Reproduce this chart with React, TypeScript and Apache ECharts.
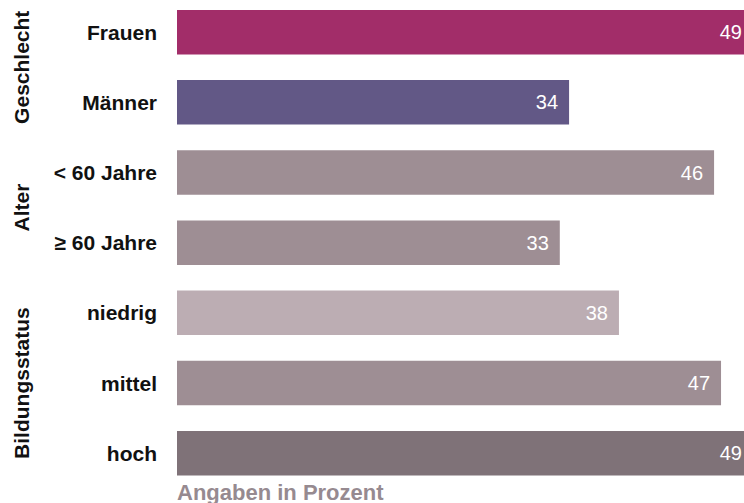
import React, { useEffect, useRef } from "react";
import * as echarts from "echarts";

const categories = ["Frauen", "Männer", "< 60 Jahre", "≥ 60 Jahre", "niedrig", "mittel", "hoch"];
const values = [49, 33.8, 46.3, 33.0, 38.1, 46.9, 49];
const barColors = ["#A22D69", "#625886", "#9E8E94", "#9E8E94", "#BCADB3", "#9E8E94", "#7F7278"];
const groups = [
  { label: "Geschlecht", first: 0, last: 1 },
  { label: "Alter", first: 2, last: 3 },
  { label: "Bildungsstatus", first: 4, last: 6 },
];
const axisNote = "Angaben in Prozent";

const FONT = "Liberation Sans, Arial, sans-serif";
const SHIFT = 3; // chart canvas starts 3px above the page top

export default function App() {
  const ref = useRef<HTMLDivElement>(null);
  useEffect(() => {
    if (!ref.current) return;
    const chart = echarts.init(ref.current, null, { renderer: "svg" });
    const band = 70.17;
    const axisMax = 48.88;
    const maxVal = Math.max(...values);
    chart.setOption({
      animation: false,
      grid: { left: 177, right: 0, top: 0.1, height: band * categories.length, containLabel: false },
      xAxis: {
        type: "value",
        min: 0,
        max: axisMax,
        show: false,
      },
      yAxis: {
        type: "category",
        data: categories,
        inverse: true,
        axisLine: { show: false },
        axisTick: { show: false },
        axisLabel: {
          margin: 20,
          fontFamily: FONT,
          fontSize: 21,
          fontWeight: "bold",
          color: "#111111",
        },
      },
      series: [
        {
          type: "bar",
          barWidth: 44.5,
          data: values.map((v, i) => ({
            value: v,
            itemStyle: { color: barColors[i] },
            label: { distance: v >= maxVal ? 2 : 11 },
          })),
          label: {
            show: true,
            position: "insideRight",
            color: "#ffffff",
            fontFamily: FONT,
            fontSize: 20,
            formatter: (p: any) => String(Math.round(p.value)),
          },
        },
      ],
      graphic: [
        ...groups.map((g) => ({
          type: "text",
          x: 21,
          y: 0.1 + band * ((g.first + g.last + 1) / 2),
          rotation: Math.PI / 2,
          style: {
            text: g.label,
            fontFamily: FONT,
            fontSize: 21,
            fontWeight: "bold",
            fill: "#111111",
            textAlign: "center",
            textVerticalAlign: "middle",
          },
        })),
        {
          type: "text",
          x: 177,
          y: 492 + SHIFT,
          style: {
            text: axisNote,
            fontFamily: FONT,
            fontSize: 22,
            fontWeight: "bold",
            fill: "#968A90",
            textAlign: "left",
            textVerticalAlign: "middle",
          },
        },
      ],
    });
    return () => chart.dispose();
  }, []);
  return (
    <div
      ref={ref}
      style={{ position: "fixed", left: 0, top: -SHIFT, width: 744, height: 503 + SHIFT, background: "#ffffff" }}
    />
  );
}
